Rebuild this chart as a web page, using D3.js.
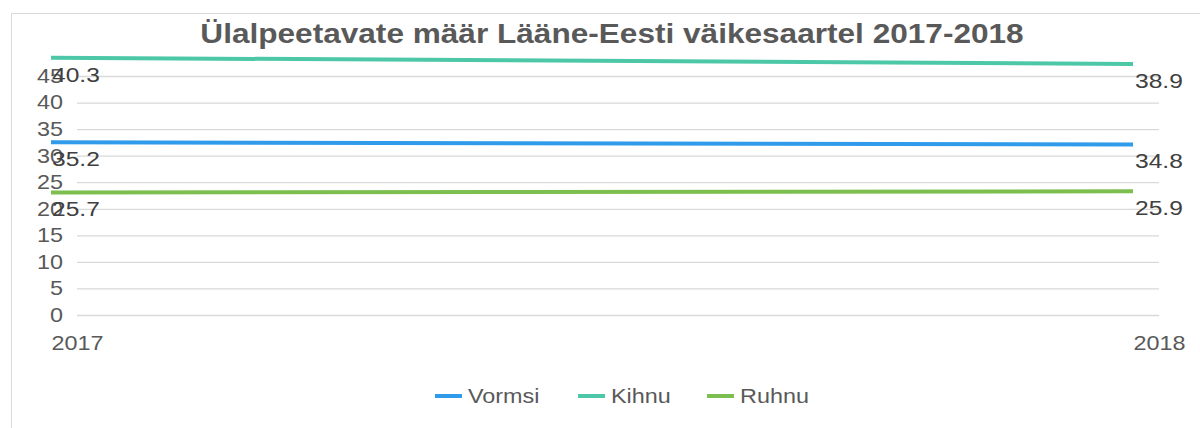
<!DOCTYPE html>
<meta charset="utf-8">
<title>Ülalpeetavate määr Lääne-Eesti väikesaartel 2017-2018</title>
<style>
    body {
        margin: 0;
        background: #fff;
        font-family: "Liberation Sans", Arial, sans-serif;
    }
</style>

<body>
    <script src="https://d3js.org/d3.v7.min.js"></script>
    <script>
        /* Data */
        var years = ["2017", "2018"];
        var seriesNames = ["Vormsi", "Kihnu", "Ruhnu"];
        var vormsi = [35.2, 34.8];
        var kihnu = [40.3, 38.9];
        var ruhnu = [25.7, 25.9];
        var yTicks = [0, 5, 10, 15, 20, 25, 30, 35, 40, 45];
        var colors = ["#2f9bea", "#4cc8a8", "#7dbf4f"];

        var series = [vormsi, kihnu, ruhnu];

        /* Layout constants */
        var width = 1200,
            height = 428;
        var sx = 1.17; // the original picture is stretched sideways
        var plotLeft = 77, plotRight = 1159, plotTop = 76, plotBottom = 315;

        var svg = d3.select("body").append("svg")
            .attr("width", width)
            .attr("height", height);

        // outer chart frame (only left and top edges are in view)
        svg.append("rect")
            .attr("x", 11.5).attr("y", 13.5)
            .attr("width", 1300).attr("height", 500)
            .attr("fill", "none")
            .attr("stroke", "#d9d9d9");

        /* Scales */
        var x = d3.scalePoint().domain(years).range([plotLeft, plotRight]);
        var y = d3.scaleLinear().domain([0, 45]).range([plotBottom, plotTop]);

        // the series lines in the source sit off the grid: shifted left and
        // not on the same vertical scale as the axis
        var xLine = d3.scalePoint().domain(years).range([plotLeft - 26, plotRight - 26]);
        var yLine = d3.scaleLinear()
            .domain([0, 35.2, 38.9, 45])
            .range([328, 142.3, 64, 36.5]);

        function stretchedText(g, tx, ty, txt) {
            return g.append("text")
                .attr("transform", "translate(" + tx + "," + ty + ") scale(" + sx + ",1)")
                .text(txt);
        }

        /* Title */
        stretchedText(svg, 612, 43, "Ülalpeetavate määr Lääne-Eesti väikesaartel 2017-2018")
            .attr("text-anchor", "middle")
            .attr("font-size", 27)
            .attr("font-weight", "bold")
            .attr("fill", "#595959");

        /* y axis with gridlines */
        var yAxis = d3.axisLeft(y)
            .tickValues(yTicks)
            .tickSize(-(plotRight - plotLeft))
            .tickPadding(12);

        var yg = svg.append("g")
            .attr("transform", "translate(" + plotLeft + ",0)")
            .call(yAxis);
        yg.select(".domain").remove();
        yg.selectAll("line").attr("stroke", "#d9d9d9").attr("stroke-width", 1.3);
        yg.selectAll("text")
            .attr("font-family", "Liberation Sans, Arial, sans-serif")
            .attr("font-size", 20)
            .attr("fill", "#595959")
            .attr("transform", "scale(" + sx + ",1)");

        /* x axis labels */
        var xAxis = d3.axisBottom(x).tickSize(0).tickPadding(21);
        var xg = svg.append("g")
            .attr("transform", "translate(0," + plotBottom + ")")
            .call(xAxis);
        xg.select(".domain").remove();
        xg.selectAll("text")
            .attr("font-family", "Liberation Sans, Arial, sans-serif")
            .attr("font-size", 20)
            .attr("fill", "#595959")
            .attr("transform", "scale(" + sx + ",1)");

        /* Lines */
        var line = d3.line()
            .x(function (d, i) { return xLine(years[i]); })
            .y(function (d) { return yLine(d); });

        series.forEach(function (vals, k) {
            svg.append("path")
                .datum(vals)
                .attr("d", line)
                .attr("fill", "none")
                .attr("stroke", colors[k])
                .attr("stroke-width", 4);
        });

        /* Data labels */
        series.forEach(function (vals, k) {
            vals.forEach(function (v, i) {
                var lx = xLine(years[i]) + (i === 0 ? 1 : 2);
                stretchedText(svg, lx, yLine(v) + 24, v.toFixed(1))
                    .attr("font-size", 21)
                    .attr("fill", "#404040");
            });
        });

        /* Legend */
        var legendX = [435, 578, 707];
        seriesNames.forEach(function (name, k) {
            svg.append("line")
                .attr("x1", legendX[k]).attr("x2", legendX[k] + 27)
                .attr("y1", 396).attr("y2", 396)
                .attr("stroke", colors[k])
                .attr("stroke-width", 4);
            stretchedText(svg, legendX[k] + 33, 403, name)
                .attr("font-size", 20)
                .attr("fill", "#595959");
        });
    </script>
</body>
